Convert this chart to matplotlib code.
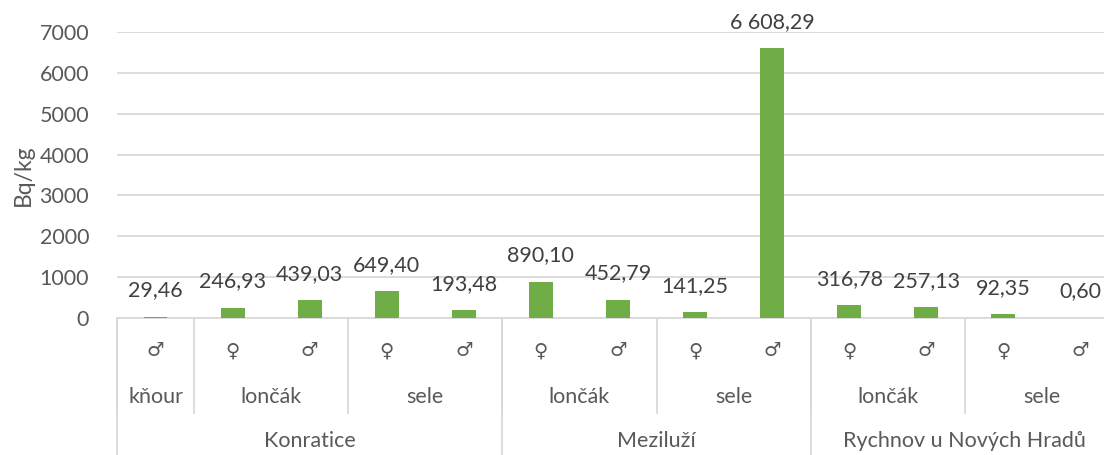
import matplotlib
matplotlib.use('Agg')
import matplotlib.pyplot as plt
import numpy as np

# data
sites = ['Konratice'] * 5 + ['Meziluží'] * 4 + ['Rychnov u Nových Hradů'] * 4
ages = ['kňour', 'lončák', 'lončák', 'sele', 'sele',
        'lončák', 'lončák', 'sele', 'sele',
        'lončák', 'lončák', 'sele', 'sele']
sexes = ['♂', '♀', '♂', '♀', '♂', '♀', '♂', '♀', '♂', '♀', '♂', '♀', '♂']
values = [29.46, 246.93, 439.03, 649.40, 193.48,
          890.10, 452.79, 141.25, 6608.29,
          316.78, 257.13, 92.35, 0.60]
yticks = [0, 1000, 2000, 3000, 4000, 5000, 6000, 7000]

# plot settings
plt.rcParams['font.family'] = ['Lato', 'DejaVu Sans']
fontsize = 15.5
bar_color = '#70ad47'
text_color = '#404040'
tick_color = '#595959'
line_color = '#d9d9d9'

W, H = 1104, 455
fig = plt.figure(figsize=(W / 100, H / 100), dpi=100)
x0, x1 = 117, 1119
y0, y1 = 318, 32
ax = fig.add_axes([x0 / W, 1 - y0 / H, (x1 - x0) / W, (y0 - y1) / H])
ax_h = y0 - y1

x = np.arange(len(values))
ax.bar(x, values, 0.31, color=bar_color, zorder=3)
ax.set_xlim(-0.5, len(values) - 0.5)
ax.set_ylim(0, 7000)
ax.set_yticks(yticks)
ax.set_yticklabels([str(t) for t in yticks], fontsize=fontsize, color=tick_color)
ax.tick_params(axis='y', length=0, pad=20)
ax.set_xticks([])
ax.grid(axis='y', color=line_color, linewidth=1.3, zorder=0)
for s in ['left', 'right', 'top']:
    ax.spines[s].set_visible(False)
ax.spines['bottom'].set_color(line_color)
ax.spines['bottom'].set_linewidth(1.3)
ax.set_ylabel('Bq/kg', fontsize=16.5, color=tick_color, labelpad=4)


def fmt(v):
    s = '{:,.2f}'.format(v)
    return s.replace(',', ' ').replace('.', ',')


# data labels
for xi, v in zip(x, values):
    ax.annotate(fmt(v), (xi, v), xytext=(0, 19), textcoords='offset points',
                ha='center', va='center', fontsize=fontsize, color=text_color,
                annotation_clip=False)

# multi-level category axis
tr = ax.get_xaxis_transform()


def frac(py):
    return (y0 - py) / ax_h


lvl1, lvl2, lvl3 = frac(351), frac(397), frac(441)
sep2, sep3 = frac(413), frac(455)

for xi, s in zip(x, sexes):
    ax.text(xi, lvl1, s, transform=tr, ha='center', va='center',
            fontsize=fontsize - 1.5, color=tick_color, family=['DejaVu Sans'])


def runs(keys):
    out = []
    start = 0
    for i in range(1, len(keys) + 1):
        if i == len(keys) or keys[i] != keys[start]:
            out.append((start, i - 1, keys[start]))
            start = i
    return out


for a, b, key in runs(list(zip(sites, ages))):
    ax.text((a + b) / 2, lvl2, key[1], transform=tr, ha='center', va='center',
            fontsize=fontsize, color=tick_color)
    ax.plot([a - 0.5, a - 0.5], [0, sep2], transform=tr, color=line_color,
            lw=1.3, clip_on=False)

for a, b, key in runs(sites):
    ax.text((a + b) / 2, lvl3, key, transform=tr, ha='center', va='center',
            fontsize=fontsize, color=tick_color)
    ax.plot([a - 0.5, a - 0.5], [0, sep3], transform=tr, color=line_color,
            lw=1.3, clip_on=False)

plt.savefig('out.png', dpi=100)
